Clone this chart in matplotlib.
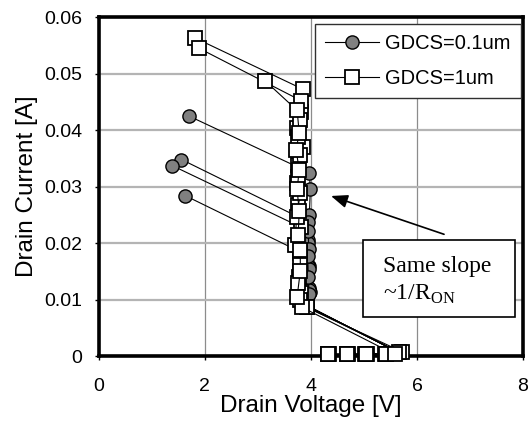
import matplotlib
matplotlib.use("Agg")
import matplotlib.pyplot as plt
from matplotlib.patches import Rectangle

plt.rcParams['font.family'] = ['Liberation Sans', 'DejaVu Sans']
plt.rcParams['mathtext.fontset'] = 'custom'
plt.rcParams['mathtext.rm'] = 'Liberation Serif'

# GDCS = 0.1um (grey circles), one list per measured curve
c1_v = [4.30, 4.68, 5.02, 5.40, 5.64, 3.93, 3.98, 3.96, 3.95, 3.97, 3.99, 3.97, 1.70]
c1_i = [0.0003, 0.0003, 0.0003, 0.0004, 0.0007, 0.0089, 0.0114, 0.0160, 0.0205, 0.0250, 0.0295, 0.0325, 0.0425]
c2_v = [4.32, 4.70, 5.04, 5.42, 5.64, 3.93, 3.96, 3.95, 3.95, 3.94, 1.56]
c2_i = [0.0003, 0.0003, 0.0003, 0.0004, 0.0007, 0.0089, 0.0120, 0.0160, 0.0200, 0.0238, 0.0348]
c3_v = [4.31, 4.69, 5.03, 5.41, 5.64, 3.93, 3.97, 3.96, 3.96, 3.95, 1.39]
c3_i = [0.0003, 0.0003, 0.0003, 0.0004, 0.0007, 0.0089, 0.0117, 0.0155, 0.0190, 0.0222, 0.0337]
c4_v = [4.33, 4.70, 5.05, 5.42, 5.64, 3.93, 3.97, 3.95, 3.94, 1.63]
c4_i = [0.0003, 0.0003, 0.0003, 0.0004, 0.0007, 0.0089, 0.0110, 0.0140, 0.0178, 0.0284]

# GDCS = 1um (white squares)
s1_v = [4.34, 4.69, 5.05, 5.42, 5.71, 3.92, 3.82, 3.78, 3.80, 3.82, 3.76, 3.74, 3.76, 3.86, 3.74, 3.82, 3.86, 1.82]
s1_i = [0.0003, 0.0003, 0.0004, 0.0004, 0.0008, 0.0086, 0.0111, 0.0140, 0.0182, 0.0229, 0.0267, 0.0306,
        0.0338, 0.0370, 0.0403, 0.0432, 0.0472, 0.0563]
s2_v = [4.32, 4.70, 5.02, 5.40, 5.66, 3.92, 3.80, 3.76, 3.80, 3.70, 3.73, 3.80, 3.76, 3.80, 3.76, 3.80, 3.82, 1.89]
s2_i = [0.0003, 0.0003, 0.0003, 0.0004, 0.0007, 0.0087, 0.0099, 0.0129, 0.0161, 0.0196, 0.0247, 0.0288, 0.0317,
        0.0356, 0.0387, 0.0418, 0.0452, 0.0545]
s3_v = [4.33, 4.68, 5.04, 5.41, 5.58, 3.84, 3.74, 3.80, 3.80, 3.76, 3.78, 3.74, 3.78, 3.72, 3.78, 3.74, 3.14]
s3_i = [0.0003, 0.0003, 0.0003, 0.0004, 0.0003, 0.0086, 0.0105, 0.0150, 0.0188, 0.0215, 0.0256, 0.0295, 0.0330,
        0.0365, 0.0395, 0.0435, 0.0487]

circle_curves = [(c1_v, c1_i), (c2_v, c2_i), (c3_v, c3_i), (c4_v, c4_i)]
square_curves = [(s1_v, s1_i), (s2_v, s2_i), (s3_v, s3_i)]

fig = plt.figure(figsize=(5.31, 4.30), dpi=100)
ax = fig.add_axes([0.186, 0.172, 0.799, 0.788])

for k, (v, i) in enumerate(circle_curves):
    ax.plot(v, i, color='black', lw=0.8, marker='o', ms=9.5, mfc='#808080', mec='black', mew=1.0,
            label='GDCS=0.1um' if k == 0 else None, zorder=3, clip_on=False)
for k, (v, i) in enumerate(square_curves):
    ax.plot(v, i, color='black', lw=0.8, marker='s', ms=10, mfc='white', mec='black', mew=1.3,
            label='GDCS=1um' if k == 0 else None, zorder=4, clip_on=False)

ax.set_xlim(0, 8)
ax.set_ylim(0, 0.06)
ax.set_xticks([0, 2, 4, 6, 8])
ax.set_yticks([0, 0.01, 0.02, 0.03, 0.04, 0.05, 0.06])
ax.set_yticklabels(['0', '0.01', '0.02', '0.03', '0.04', '0.05', '0.06'])
ax.tick_params(labelsize=14, length=3, width=1, direction='out')
ax.tick_params(axis='x', pad=13)
ax.tick_params(axis='y', pad=9)
ax.set_xlabel('Drain Voltage [V]', fontsize=17.5, labelpad=0)
ax.set_ylabel('Drain Current [A]', fontsize=17.5, labelpad=4)

ax.yaxis.grid(True, color='#b4b4b4', lw=1.6)
ax.xaxis.grid(True, color='#8c8c8c', lw=0.9)
ax.set_axisbelow(True)
for sp in ax.spines.values():
    sp.set_linewidth(2.6)
    sp.set_zorder(2.5)

leg = ax.legend(loc='upper right', bbox_to_anchor=(0.995, 0.98), borderaxespad=0, fontsize=14.5,
                handlelength=2.7, handletextpad=0.3, labelspacing=0.8, borderpad=0.5,
                fancybox=False, framealpha=1, edgecolor='#303030')
leg.get_frame().set_linewidth(1.0)
leg.set_zorder(6)

# annotation box with arrow
ax.add_patch(Rectangle((0.623, 0.116), 0.358, 0.226, transform=ax.transAxes, facecolor='white',
                       edgecolor='black', lw=1.2, zorder=6))
ax.text(0.671, 0.295, 'Same slope', transform=ax.transAxes, fontsize=17, va='top',
        family=['Liberation Serif'], zorder=7)
ax.text(0.671, 0.215, r'~1/R$_{\rm ON}$', transform=ax.transAxes, fontsize=17, va='top',
        family=['Liberation Serif'], zorder=7)
ax.annotate('', xy=(4.33, 0.0285), xytext=(6.56, 0.0214),
            arrowprops=dict(arrowstyle='-|>,head_length=1.0,head_width=0.4', color='black', lw=1.2),
            zorder=7)

fig.savefig('out.png', dpi=100)
